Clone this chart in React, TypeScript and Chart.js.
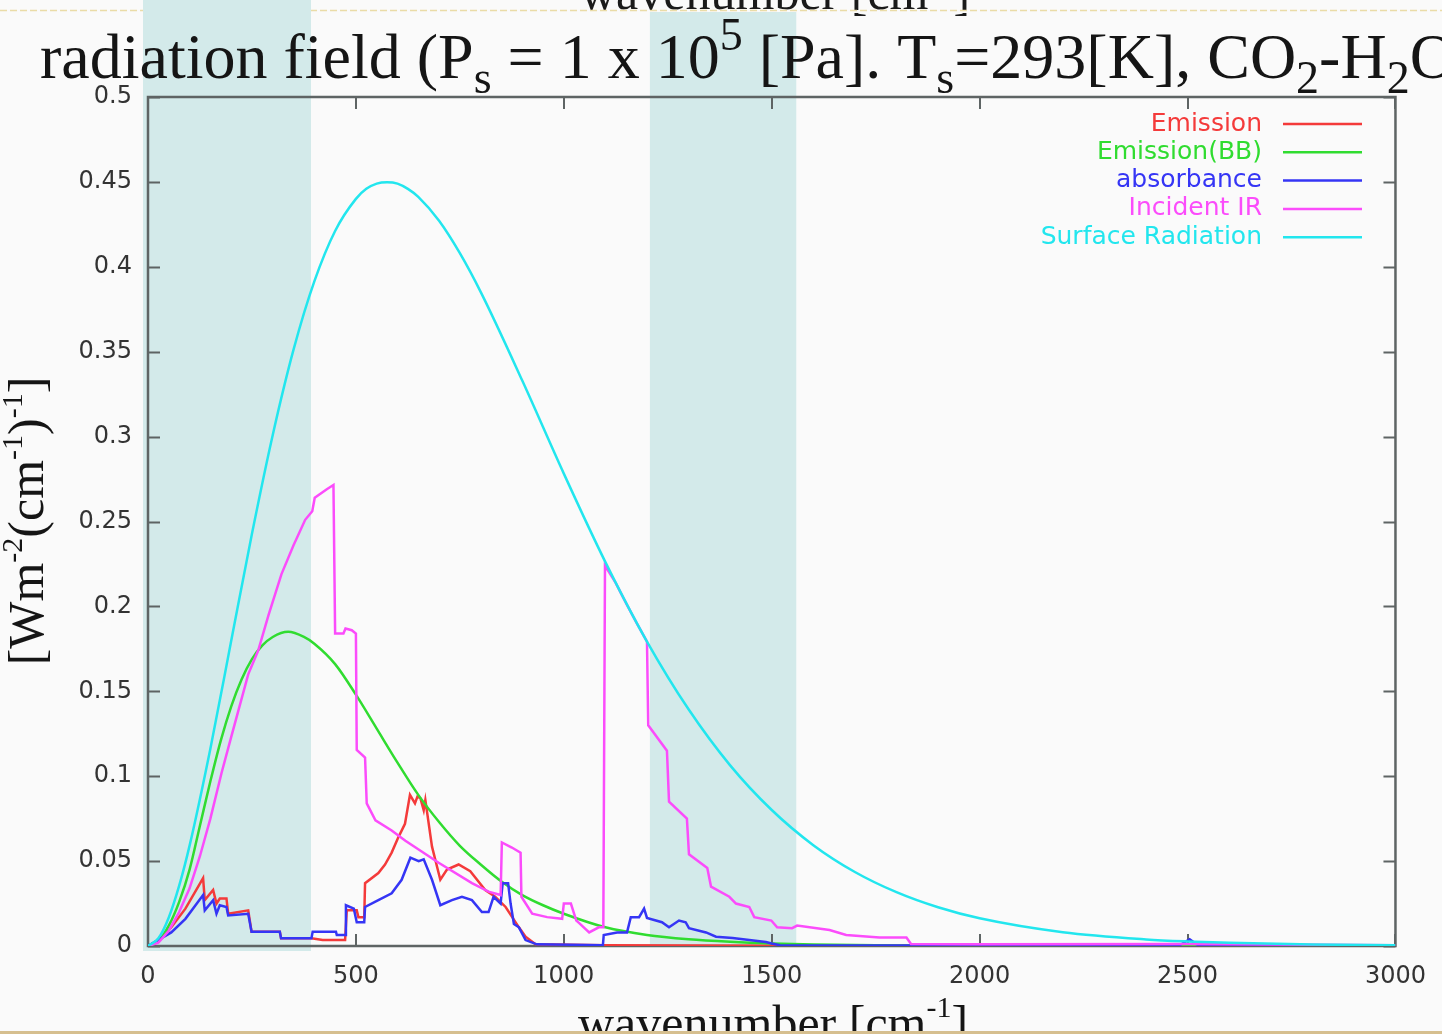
import React, { useEffect, useRef } from 'react';
import { Chart, registerables } from 'chart.js';

Chart.register(...registerables);

// ---------- data ----------
const xTickLabels = ['0', '500', '1000', '1500', '2000', '2500', '3000'];
const yTickLabels = ['0', '0.05', '0.1', '0.15', '0.2', '0.25', '0.3', '0.35', '0.4', '0.45', '0.5'];

const seriesNames = ['Emission', 'Emission(BB)', 'absorbance', 'Incident IR', 'Surface Radiation'];
const seriesColors = ['#f43a3a', '#30dc30', '#3535f5', '#fb4cfb', '#22e6ee'];

const emissionX = [0, 30, 56, 90, 132.5, 136.5, 156.6, 164.7, 172.7, 188.7, 192.8, 241, 249, 317, 320, 393, 420, 474, 478, 502, 506, 520, 522, 554, 570, 586, 602, 618, 630, 642, 648, 655, 663, 667, 683, 703, 719, 747, 775, 811, 835, 860, 892, 908, 932, 1100, 1500, 3000];
const emissionY = [0, 0.004, 0.011, 0.022, 0.040, 0.027, 0.033, 0.025, 0.028, 0.028, 0.019, 0.021, 0.0084, 0.0084, 0.0045, 0.0045, 0.0035, 0.0035, 0.021, 0.021, 0.017, 0.017, 0.037, 0.043, 0.048, 0.055, 0.064, 0.072, 0.089, 0.084, 0.088, 0.087, 0.080, 0.086, 0.0585, 0.039, 0.045, 0.048, 0.044, 0.033, 0.029, 0.023, 0.011, 0.0055, 0.001, 0.0005, 0.0002, 0];

const bbX = [0, 25, 50, 75, 100, 125, 150, 175, 200, 225, 250, 275, 300, 337, 375, 400, 450, 500, 550, 600, 650, 700, 750, 800, 850, 900, 950, 1000, 1100, 1200, 1300, 1400, 1500, 1600, 1800, 2000, 3000];
const bbY = [0, 0.003, 0.012, 0.026, 0.045, 0.071, 0.097, 0.121, 0.141, 0.157, 0.169, 0.177, 0.182, 0.185, 0.182, 0.178, 0.166, 0.148, 0.128, 0.108, 0.089, 0.073, 0.059, 0.048, 0.038, 0.030, 0.024, 0.019, 0.011, 0.0065, 0.004, 0.0025, 0.0015, 0.0009, 0.0003, 0.0001, 0];

const absorbX = [0, 56, 90, 132.5, 136.5, 156.6, 164.7, 172.7, 188.7, 192.8, 241, 249, 317, 320, 393, 396, 452, 454, 474, 476, 495, 502, 520, 522, 554, 586, 610, 631, 651, 663, 683, 703, 731, 755, 779, 803, 819, 831, 848, 853, 866, 872, 880, 892, 908, 935, 1094, 1096, 1128, 1152, 1161, 1181, 1193, 1200, 1236, 1253, 1277, 1293, 1301, 1342, 1366, 1406, 1446, 1486, 1500, 1520, 2480, 2505, 2525, 3000];
const absorbY = [0, 0.008, 0.016, 0.030, 0.021, 0.027, 0.019, 0.024, 0.023, 0.018, 0.019, 0.0084, 0.0084, 0.0045, 0.0045, 0.0084, 0.0084, 0.0065, 0.0065, 0.024, 0.022, 0.014, 0.014, 0.023, 0.027, 0.031, 0.039, 0.052, 0.050, 0.051, 0.039, 0.024, 0.027, 0.029, 0.027, 0.020, 0.020, 0.029, 0.025, 0.037, 0.037, 0.025, 0.013, 0.011, 0.0035, 0.001, 0.0005, 0.0065, 0.008, 0.008, 0.017, 0.017, 0.022, 0.0165, 0.014, 0.011, 0.015, 0.014, 0.0105, 0.008, 0.0055, 0.0047, 0.0035, 0.0024, 0.0015, 0.0004, 0.0003, 0.004, 0.0005, 0.0002];

const incidentX = [0, 25, 50, 75, 100, 125, 150, 177, 200, 241, 265, 290, 321, 350, 378, 395, 401, 430, 446, 450, 470, 475, 490, 500, 502, 522, 526, 547, 586, 619, 699, 779, 819, 848, 851, 875, 896, 898, 924, 960, 996, 1000, 1017, 1030, 1037, 1061, 1084, 1095, 1099, 1125, 1150, 1175, 1200, 1203, 1248, 1253, 1296, 1301, 1345, 1354, 1398, 1414, 1446, 1458, 1499, 1513, 1549, 1561, 1639, 1679, 1759, 1824, 1835, 2000, 2500, 3000];
const incidentY = [0, 0.002, 0.009, 0.02, 0.034, 0.053, 0.075, 0.102, 0.123, 0.160, 0.174, 0.195, 0.219, 0.236, 0.251, 0.256, 0.264, 0.269, 0.2715, 0.184, 0.184, 0.187, 0.186, 0.184, 0.1155, 0.111, 0.084, 0.074, 0.068, 0.062, 0.049, 0.037, 0.032, 0.030, 0.061, 0.058, 0.055, 0.029, 0.019, 0.017, 0.016, 0.025, 0.025, 0.015, 0.0135, 0.008, 0.011, 0.011, 0.224, 0.2137, 0.2018, 0.1903, 0.1793, 0.130, 0.115, 0.085, 0.075, 0.054, 0.046, 0.035, 0.029, 0.025, 0.023, 0.017, 0.015, 0.011, 0.0105, 0.012, 0.0094, 0.0065, 0.005, 0.005, 0.0012, 0.001, 0.0012, 0.0005];

const surfaceX = [0, 25, 50, 75, 100, 150, 200, 250, 300, 350, 400, 450, 500, 525, 550, 575, 600, 625, 650, 700, 750, 800, 900, 1000, 1100, 1200, 1300, 1400, 1500, 1600, 1700, 1800, 1900, 2000, 2200, 2400, 2500, 2600, 2800, 3000];
const surfaceY = [0, 0.0045, 0.0168, 0.0355, 0.0591, 0.1162, 0.1796, 0.2428, 0.301, 0.3512, 0.3914, 0.4211, 0.44, 0.4459, 0.449, 0.4498, 0.449, 0.4459, 0.4412, 0.4271, 0.408, 0.3852, 0.333, 0.2782, 0.2261, 0.1793, 0.1394, 0.1064, 0.0801, 0.0594, 0.0436, 0.0317, 0.0228, 0.0163, 0.0081, 0.0039, 0.0027, 0.0019, 0.0009, 0.0004];

// highlighted wavenumber bands (cm^-1)
const bandRanges = [[-12, 392], [1207, 1559]];

// ---------- text helpers ----------
type Seg = [string, number]; // 0 normal, 1 superscript, -1 subscript
const SERIF = '"Liberation Serif", "Times New Roman", serif';

function richWidth(ctx: CanvasRenderingContext2D, segs: Seg[], size: number, small: number) {
  let w = 0;
  for (const [t, m] of segs) {
    ctx.font = `${m === 0 ? size : small}px ${SERIF}`;
    w += ctx.measureText(t).width;
  }
  return w;
}
function drawRich(ctx: CanvasRenderingContext2D, x: number, y: number, segs: Seg[], size: number, small: number, supOff: number, subOff: number) {
  let cx = x;
  for (const [t, m] of segs) {
    ctx.font = `${m === 0 ? size : small}px ${SERIF}`;
    const dy = m === 1 ? -supOff : m === -1 ? subOff : 0;
    ctx.fillText(t, cx, y + dy);
    cx += ctx.measureText(t).width;
  }
}

const titleSegs: Seg[] = [['radiation field (P', 0], ['s', -1], [' = 1 x 10', 0], ['5', 1], [' [Pa]. T', 0], ['s', -1], ['=293[K], CO', 0], ['2', -1], ['-H', 0], ['2', -1], ['O)', 0]];
const xTitleSegs: Seg[] = [['wavenumber [cm', 0], ['-1', 1], [']', 0]];
const yTitleSegs: Seg[] = [['[Wm', 0], ['-2', 1], ['(cm', 0], ['-1', 1], [')', 0], ['-1', 1], [']', 0]];

const decorPlugin = {
  id: 'decor',
  beforeDraw(chart: any) {
    const { ctx, width, height } = chart;
    ctx.save();
    ctx.fillStyle = '#fafafa';
    ctx.fillRect(0, 0, width, height);
    // remnant of previous slide's axis label at the top
    ctx.fillStyle = '#1a1a1a';
    ctx.textBaseline = 'alphabetic';
    ctx.textAlign = 'left';
    drawRich(ctx, 580, 9, xTitleSegs, 50, 30, 23, 0);
    ctx.fillStyle = '#fafafa';
    ctx.fillRect(0, 10, width, 3);
    ctx.strokeStyle = '#eadca8';
    ctx.lineWidth = 1.5;
    ctx.setLineDash([7, 3]);
    ctx.beginPath();
    ctx.moveTo(0, 10.5);
    ctx.lineTo(width, 10.5);
    ctx.stroke();
    ctx.setLineDash([]);
    // bands
    const xs = chart.scales.x;
    ctx.fillStyle = '#d3eaea';
    bandRanges.forEach(([a, b], i) => {
      const x1 = xs.getPixelForValue(a);
      const x2 = xs.getPixelForValue(b);
      const t = i === 0 ? 0 : 12;
      const bt = i === 0 ? 951 : 946;
      ctx.fillRect(x1, t, x2 - x1, bt - t);
    });
    ctx.restore();
  },
  beforeDatasetsDraw(chart: any) {
    const { ctx, chartArea } = chart;
    const { left, right, top, bottom } = chartArea;
    const xs = chart.scales.x;
    const ys = chart.scales.y;
    ctx.save();
    ctx.strokeStyle = '#5e6464';
    ctx.lineWidth = 2.5;
    ctx.strokeRect(left, top, right - left, bottom - top);
    ctx.lineWidth = 2;
    ctx.beginPath();
    ys.ticks.forEach((t: any) => {
      const py = Math.round(ys.getPixelForValue(t.value)) + 0.5;
      ctx.moveTo(left, py); ctx.lineTo(left + 12, py);
      ctx.moveTo(right, py); ctx.lineTo(right - 12, py);
    });
    xs.ticks.forEach((t: any) => {
      const px = Math.round(xs.getPixelForValue(t.value));
      ctx.moveTo(px, bottom); ctx.lineTo(px, bottom - 12);
      ctx.moveTo(px, top); ctx.lineTo(px, top + 12);
    });
    ctx.stroke();
    ctx.restore();
  },
  afterDraw(chart: any) {
    const { ctx, width, height } = chart;
    ctx.save();
    ctx.fillStyle = '#151515';
    ctx.textAlign = 'left';
    ctx.textBaseline = 'alphabetic';
    // title
    drawRich(ctx, 40, 78, titleSegs, 64, 46, 28, 15);
    // x title
    drawRich(ctx, 578, 1040, xTitleSegs, 50, 30, 23, 0);
    // y title
    ctx.save();
    ctx.translate(43, 521);
    ctx.rotate(-Math.PI / 2);
    const w = richWidth(ctx, yTitleSegs, 50, 30);
    drawRich(ctx, -w / 2, 0, yTitleSegs, 50, 30, 21, 0);
    ctx.restore();
    // legend
    ctx.font = '25px "DejaVu Sans", sans-serif';
    ctx.textAlign = 'right';
    ctx.textBaseline = 'middle';
    ctx.lineWidth = 2.5;
    chart.data.datasets.forEach((ds: any, i: number) => {
      const y = 124 + i * 28.3;
      ctx.fillStyle = ds.borderColor;
      ctx.fillText(ds.label, 1262, y);
      ctx.strokeStyle = ds.borderColor;
      ctx.beginPath();
      ctx.moveTo(1283, y);
      ctx.lineTo(1362, y);
      ctx.stroke();
    });
    // bottom strip of slide
    ctx.fillStyle = '#d6bf8f';
    ctx.fillRect(0, 1031, width, height - 1031);
    ctx.restore();
  },
};

function toPoints(xs: number[], ys: number[]) {
  return xs.map((x, i) => ({ x, y: ys[i] }));
}

export default function App() {
  const ref = useRef<HTMLCanvasElement | null>(null);
  useEffect(() => {
    const canvas = ref.current;
    if (!canvas) return;
    const xsArr = [emissionX, bbX, absorbX, incidentX, surfaceX];
    const ysArr = [emissionY, bbY, absorbY, incidentY, surfaceY];
    const smooth = [false, true, false, false, true];
    const chart = new Chart(canvas, {
      type: 'line',
      data: {
        datasets: seriesNames.map((name, i) => ({
          label: name,
          data: toPoints(xsArr[i], ysArr[i]),
          borderColor: seriesColors[i],
          backgroundColor: seriesColors[i],
          borderWidth: 2.5,
          pointRadius: 0,
          fill: false,
          tension: 0,
          cubicInterpolationMode: smooth[i] ? 'monotone' : 'default',
          order: seriesNames.length - i,
        })),
      },
      options: {
        animation: false,
        responsive: false,
        devicePixelRatio: 1,
        layout: { padding: { left: 0, right: 46, top: 97, bottom: 0 } },
        plugins: { legend: { display: false }, tooltip: { enabled: false }, title: { display: false } },
        scales: {
          x: {
            type: 'linear',
            min: 0,
            max: 3000,
            grid: { display: false, drawTicks: false },
            border: { display: false },
            ticks: {
              stepSize: 500,
              autoSkip: false,
              maxRotation: 0,
              padding: 16,
              color: '#333',
              font: { family: '"DejaVu Sans", sans-serif', size: 24 },
              callback: (_v: any, i: number) => xTickLabels[i],
            },
            afterFit: (s: any) => { s.height = 88; },
          },
          y: {
            type: 'linear',
            min: 0,
            max: 0.5,
            grid: { display: false, drawTicks: false },
            border: { display: false },
            ticks: {
              stepSize: 0.05,
              autoSkip: false,
              padding: 16,
              color: '#333',
              font: { family: '"DejaVu Sans", sans-serif', size: 24 },
              callback: (_v: any, i: number) => yTickLabels[i],
            },
            afterFit: (s: any) => { s.width = 148; },
          },
        },
      },
      plugins: [decorPlugin],
    } as any);
    return () => chart.destroy();
  }, []);
  return (
    <canvas
      ref={ref}
      width={1442}
      height={1034}
      style={{ position: 'absolute', left: 0, top: 0, width: 1442, height: 1034, display: 'block' }}
    />
  );
}
